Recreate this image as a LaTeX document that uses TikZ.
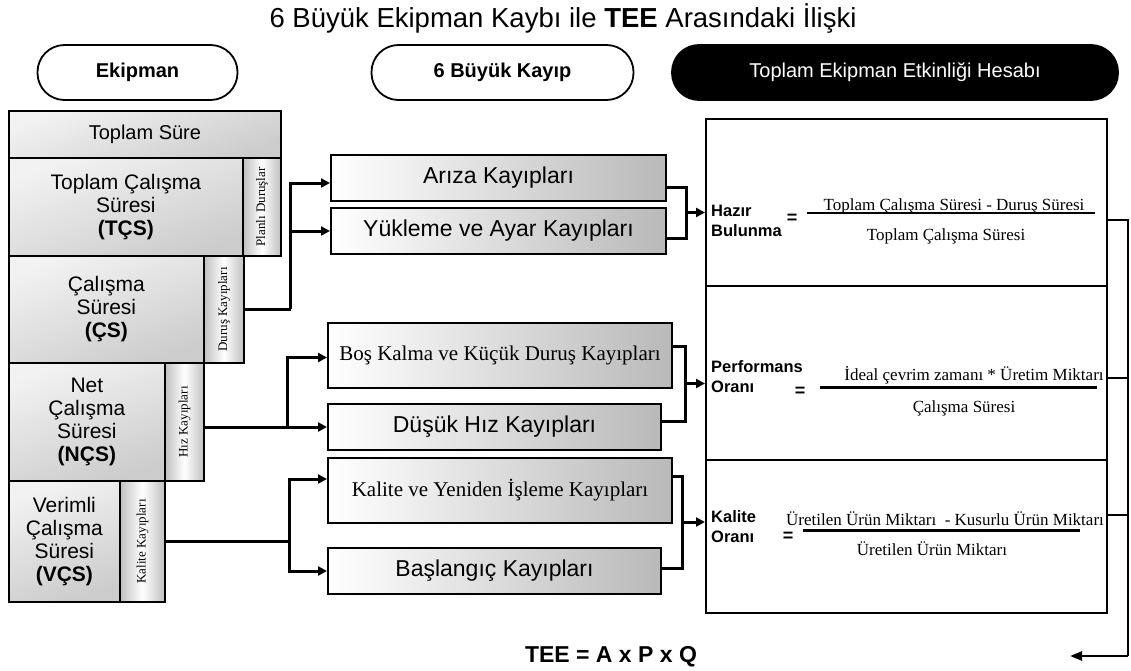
\documentclass[tikz,border=0pt]{standalone}
\usepackage{fontspec}
\setmainfont{Liberation Sans}
\newfontfamily\tms{Liberation Serif}
\usetikzlibrary{arrows.meta,calc,positioning}

\tikzset{
  conn/.style={line width=3pt},
  arr/.style={conn,-{Triangle[length=9pt,width=9pt]}},
  rconn/.style={line width=2.5pt},
  pill/.style={draw,line width=1.8pt,rounded corners=27pt,minimum height=55pt,inner sep=0pt,
    font=\fontsize{20}{23}\selectfont\bfseries},
  lbox/.style={draw,line width=1.8pt,anchor=north west,inner sep=0pt,align=center,
    top color=gray!10,bottom color=gray!40,shading angle=20,font=\fontsize{21}{23}\selectfont},
  strip/.style={draw,line width=1.8pt,anchor=north west,inner sep=0pt,
    left color=gray!50,right color=gray!50,middle color=white},
  vlabel/.style={rotate=90,font=\tms\fontsize{13}{15}\selectfont},
  lossbox/.style={draw,line width=2pt,anchor=north west,inner sep=0pt,
    left color=white,right color=gray!55,font=\fontsize{23}{26}\selectfont},
  serifloss/.style={font=\tms\fontsize{21}{24}\selectfont},
  rbox/.style={draw,line width=2pt,anchor=north west,inner sep=0pt,minimum width=401pt},
  flabel/.style={anchor=west,inner sep=0pt,align=left,font=\fontsize{16.5}{20}\selectfont\bfseries},
  feq/.style={inner sep=0pt,font=\fontsize{18}{20}\selectfont\bfseries},
  frm/.style={anchor=base,inner sep=0pt,font=\tms\fontsize{17}{20}\selectfont},
}

\begin{document}
\begin{tikzpicture}[x=1pt,y=-1pt]
  \useasboundingbox (0,0) rectangle (1131,671);
  %% title
  \node[anchor=base,inner sep=0pt,font=\fontsize{27.5}{30}\selectfont] (title) at (563,28)
    {6 Büyük Ekipman Kaybı ile \textbf{TEE} Arasındaki İlişki};
  %% column heads
  \node[pill,minimum width=200pt] (hekip) at (137.5,72.5) {Ekipman};
  \node[pill,minimum width=262pt] (hkayip) at (502.5,72.5) {6 Büyük Kayıp};
  \node[pill,fill=black,text=white,minimum width=446pt,font=\fontsize{20}{23}\selectfont] (hhesap) at (895,72.5)
    {Toplam Ekipman Etkinliği Hesabı};
  %% equipment times
  \node[lbox,minimum width=272pt,minimum height=47pt,font=\fontsize{20}{23}\selectfont] (ts) at (8,110) {Toplam Süre};
  \node[lbox,minimum width=234pt,minimum height=98pt] (tcs) at (8,157) {Toplam Çalışma\\Süresi\\\textbf{(TÇS)}};
  \node[strip,minimum width=38pt,minimum height=98pt] (plan) at (242,157) {};
  \node[lbox,minimum width=195pt,minimum height=107pt] (cs) at (8,255) {Çalışma\\Süresi\\\textbf{(ÇS)}};
  \node[strip,minimum width=40pt,minimum height=107pt] (durus) at (203,255) {};
  \node[lbox,minimum width=156pt,minimum height=118pt] (ncs) at (8,362) {Net\\Çalışma\\Süresi\\\textbf{(NÇS)}};
  \node[strip,minimum width=39pt,minimum height=118pt] (hiz) at (164,362) {};
  \node[lbox,minimum width=111pt,minimum height=121pt] (vcs) at (8,480) {Verimli\\Çalışma\\Süresi\\\textbf{(VÇS)}};
  \node[strip,minimum width=45pt,minimum height=121pt] (kal) at (119,480) {};
  \node[vlabel] (lplan) at (plan.center) {Planlı Duruşlar};
  \node[vlabel] (ldurus) at (durus.center) {Duruş Kayıpları};
  \node[vlabel] (lhiz) at (hiz.center) {Hız Kayıpları};
  \node[vlabel] (lkal) at (kal.center) {Kalite Kayıpları};
  %% six big losses
  \node[lossbox,minimum width=335pt,minimum height=46pt] (ariza) at (330,154) {Arıza Kayıpları};
  \node[lossbox,minimum width=335pt,minimum height=46pt] (yukleme) at (330,207) {Yükleme ve Ayar Kayıpları};
  \node[lossbox,serifloss,minimum width=344pt,minimum height=65pt] (bos) at (327,322) {Boş Kalma ve Küçük Duruş Kayıpları};
  \node[lossbox,minimum width=333pt,minimum height=46pt] (dusuk) at (327,403) {Düşük Hız Kayıpları};
  \node[lossbox,serifloss,minimum width=344pt,minimum height=65pt] (kalite) at (327,457) {Kalite ve Yeniden İşleme Kayıpları};
  \node[lossbox,minimum width=333pt,minimum height=46pt] (baslangic) at (327,547) {Başlangıç Kayıpları};
  %% OEE boxes
  \node[rbox,minimum height=167pt] (ra) at (705,118) {};
  \node[rbox,minimum height=174pt] (rp) at (705,285) {};
  \node[rbox,minimum height=153pt] (rq) at (705,459) {};
  %% availability
  \node[flabel] (hlab) at (711,221) {Hazır\\Bulunma};
  \node[feq] (heq) at (792,219) {=};
  \node[frm] (hnum) at (954,210) {Toplam Çalışma Süresi - Duruş Süresi};
  \draw[line width=2pt] (807,213) -- (1095,213);
  \node[frm] (hden) at (946,240) {Toplam Çalışma Süresi};
  %% performance
  \node[flabel] (plab) at (711,377) {Performans\\Oranı};
  \node[feq] (peq) at (800,392) {=};
  \node[frm] (pnum) at (974,380) {İdeal çevrim zamanı * Üretim Miktarı};
  \draw[line width=3pt] (820,387) -- (1097,387);
  \node[frm] (pden) at (964,412) {Çalışma Süresi};
  %% quality
  \node[flabel] (qlab) at (711,527) {Kalite\\Oranı};
  \node[feq] (qeq) at (788,537) {=};
  \node[frm] (qnum) at (945,525) {Üretilen Ürün Miktarı \ - Kusurlu Ürün Miktarı};
  \draw[line width=3pt] (803,530) -- (1080,530);
  \node[frm] (qden) at (932,555) {Üretilen Ürün Miktarı};
  %% result
  \node[anchor=base,inner sep=0pt,font=\fontsize{23}{26}\selectfont\bfseries] (tee) at (611,662) {TEE = A x P x Q};
  %% times -> losses
  \draw[conn] (durus.east) -- ++(46,0) coordinate (j1);
  \draw[arr] (j1) |- ([yshift=-5pt]ariza.west);
  \draw[arr] (j1) |- (yukleme.west);
  \draw[conn] (hiz.east |- dusuk.west) -- ++(83,0) coordinate (j2);
  \draw[arr] (j2) -- (dusuk.west);
  \draw[arr] (j2) |- ([yshift=-2pt]bos.west);
  \draw[conn] (kal.east) -- ++(124,0) coordinate (j3);
  \draw[arr] (j3) |- ([yshift=11.5pt]kalite.west);
  \draw[arr] (j3) |- (baslangic.west);
  %% losses -> OEE
  \coordinate (o1) at ([yshift=-9pt]ariza.east);
  \coordinate (o2) at ([yshift=-7pt]yukleme.east);
  \draw[conn] (o1) -- ++(19,0) coordinate (b1) -- (b1 |- o2) coordinate (b1e) -- (o2);
  \draw[arr] ($(b1)!.5!(b1e)$) coordinate (m1) -- (m1 -| ra.west);
  \coordinate (o3) at ([yshift=9.5pt]bos.east);
  \coordinate (o4) at ([yshift=6pt]dusuk.east);
  \draw[conn] (o3) -- ++(12,0) coordinate (b2) -- (b2 |- o4) coordinate (b2e) -- (o4);
  \draw[arr] ($(b2)!.5!(b2e)$) coordinate (m2) -- (m2 -| rp.west);
  \coordinate (o5) at ([yshift=14.5pt]kalite.east);
  \coordinate (o6) at ([yshift=3pt]baslangic.east);
  \draw[conn] (o5) -- ++(9,0) coordinate (b3) -- (b3 |- o6) coordinate (b3e) -- (o6);
  \draw[arr] ($(b3)!.5!(b3e)$) coordinate (m3) -- (m3 -| rq.west);
  %% OEE -> result
  \coordinate (rr) at (1128,656);
  \coordinate (teetip) at (1070,656);
  \draw[rconn] ([yshift=-17.5pt]ra.east) -| (rr);
  \draw[rconn] ([yshift=-5pt]rp.east) -| (rr);
  \draw[rconn] ([yshift=21.5pt]rq.east) -| (rr);
  \draw[rconn,-{Triangle[length=12pt,width=9pt]}] (rr) -- (teetip);
\end{tikzpicture}
\end{document}
